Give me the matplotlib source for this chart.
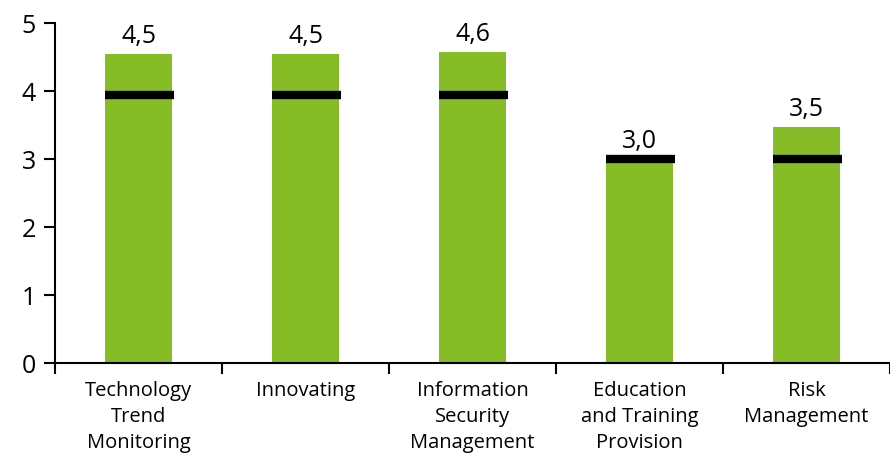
import matplotlib.pyplot as plt
import numpy as np

categories = ["Technology\nTrend\nMonitoring", "Innovating", "Information\nSecurity\nManagement",
              "Education\nand Training\nProvision", "Risk\nManagement"]
scores = [4.54, 4.54, 4.57, 2.98, 3.47]
labels = ["4,5", "4,5", "4,6", "3,0", "3,5"]
benchmark = [3.94, 3.94, 3.94, 3.0, 3.0]

plt.rcParams['font.family'] = ['Open Sans', 'DejaVu Sans']

fig = plt.figure(figsize=(8.9, 4.55), dpi=100)
ax = fig.add_axes([0.062, 0.202, 0.938, 0.747])

x = np.arange(len(categories))
bw = 0.4
ax.bar(x, scores, width=bw, color="#86bc25", zorder=2)
for xi, b in zip(x, benchmark):
    ax.plot([xi - bw / 2, xi + bw / 2 + 0.01], [b, b], color="black", lw=6,
            solid_capstyle="butt", zorder=3)
for xi, s, b, lab in zip(x, scores, benchmark, labels):
    top = max(s, b)
    ax.text(xi, top + 0.08, lab, ha="center", va="bottom", fontsize=18)

ax.set_xlim(-0.5, len(categories) - 0.5)
ax.set_ylim(0, 5)
ax.set_yticks(range(6))
ax.tick_params(axis="y", labelsize=18, length=8, width=1.5, pad=6)
ax.set_xticks(x)
ax.set_xticklabels(categories, fontsize=14.5, linespacing=1.4)
ax.tick_params(axis="x", which="major", length=0, pad=13)
ax.set_xticks(np.arange(-0.5, len(categories), 1), minor=True)
ax.tick_params(axis="x", which="minor", length=8, width=1.5)

for side in ["top", "right"]:
    ax.spines[side].set_visible(False)
for side in ["left", "bottom"]:
    ax.spines[side].set_linewidth(1.5)

fig.savefig("out.png", dpi=100)
